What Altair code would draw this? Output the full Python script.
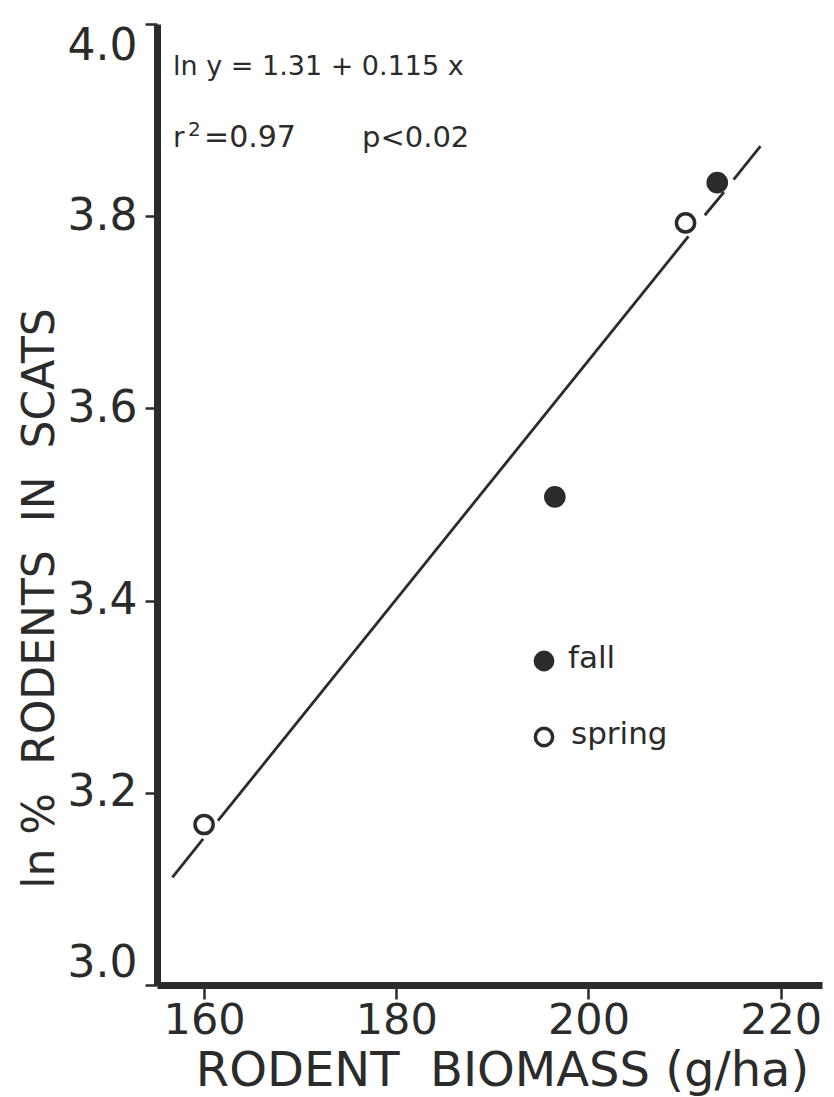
import altair as alt
import pandas as pd

# ---- data ----
season = ["spring", "spring", "fall", "fall"]
biomass = [160.0, 210.1, 213.4, 196.5]
ln_pct = [3.167, 3.793, 3.835, 3.508]

# fitted regression line, drawn in pieces with gaps around the symbols
seg_x1 = [156.7, 161.45, 212.1, 215.1]
seg_x2 = [159.9, 210.4, 214.1, 217.9]
seg_y1 = [3.112, 3.171, 3.801, 3.838]
seg_y2 = [3.152, 3.779, 3.825, 3.873]

x_ticks = [160, 180, 200, 220]
y_ticks = [3.0, 3.2, 3.4, 3.6, 3.8, 4.0]

legend_labels = ["fall", "spring"]
eq_line1 = "ln y = 1.31 + 0.115 x"
eq_r = "r"
eq_sup = "2"
eq_r2 = "=0.97"
eq_p = "p<0.02"

FONT = "DejaVu Sans"
INK = "#2b2b2b"
NB = "\u00a0"

pts = pd.DataFrame({"season": season, "x": biomass, "y": ln_pct})
segs = pd.DataFrame({"x": seg_x1, "x2": seg_x2, "y": seg_y1, "y2": seg_y2})

xscale = alt.Scale(domain=[155.1, 224.3], nice=False, zero=False)
yscale = alt.Scale(domain=[3.0, 4.0], nice=False, zero=False)
fillscale = alt.Scale(domain=["fall", "spring"], range=[INK, "white"])

xaxis = alt.Axis(values=x_ticks, title="RODENT" + NB + NB + "BIOMASS" + NB + "(g/ha)", grid=False,
                 domainWidth=7, domainColor=INK, tickColor=INK, tickWidth=2.5,
                 tickSize=14, labelPadding=0, labelFontSize=43, labelFont=FONT,
                 labelColor=INK, titleFont=FONT, titleFontSize=48,
                 titleFontWeight="normal", titleColor=INK, titlePadding=0,
                 titleX=345, titleY=62, titleBaseline="top", titleAnchor="middle", titleAlign="center")
yaxis = alt.Axis(values=y_ticks, format=".1f",
                 title="ln" + NB + "%" + NB + NB + "RODENTS" + NB + NB + "IN" + NB + NB + "SCATS", grid=False,
                 domainWidth=7, domainColor=INK, tickColor=INK, tickWidth=2.5,
                 tickSize=12, labelPadding=8, labelFontSize=44, labelFont=FONT, labelFlush=True,
                 labelColor=INK, titleFont=FONT, titleFontSize=44,
                 titleFontWeight="normal", titleColor=INK, titleAngle=270,
                 titleX=-117, titleY=574, titleBaseline="middle", titleAlign="center")

points = alt.Chart(pts).mark_point(filled=False, opacity=1, shape="circle").encode(
    x=alt.X("x:Q", scale=xscale, axis=xaxis),
    y=alt.Y("y:Q", scale=yscale, axis=yaxis),
    fill=alt.Fill("season:N", scale=fillscale, legend=None),
    size=alt.value(330),
    stroke=alt.value(INK),
    strokeWidth=alt.value(3.5),
)

line = alt.Chart(segs).mark_rule(color=INK, strokeWidth=2.8).encode(
    x=alt.X("x:Q", scale=xscale), x2="x2:Q",
    y=alt.Y("y:Q", scale=yscale), y2="y2:Q",
)


def txt(s, x, y, size, baseline="alphabetic"):
    return alt.Chart(pd.DataFrame({"t": [s]})).mark_text(
        font=FONT, fontSize=size, color=INK, align="left", baseline=baseline
    ).encode(text="t:N", x=alt.value(x), y=alt.value(y))


def key_symbol(fillcolor, x, y):
    return alt.Chart(pd.DataFrame({"k": [0]})).mark_point(
        filled=False, opacity=1, shape="circle", size=300, stroke=INK, strokeWidth=3.5, fill=fillcolor
    ).encode(x=alt.value(x), y=alt.value(y))


# hand-placed key (as in the original figure)
key1 = key_symbol(INK, 387, 637)
key2 = key_symbol("white", 387, 713)
key1t = txt(legend_labels[0], 411, 644, 31)
key2t = txt(legend_labels[1], 414, 720, 31)

eq1 = txt(eq_line1, 16, 51, 27)
eq2a = txt(eq_r, 16, 123, 28)
eq2b = txt(eq_sup, 31, 112, 20)
eq2c = txt(eq_r2, 47, 123, 30)
eq3 = txt(eq_p, 205, 123, 29)

chart = alt.layer(line, points, key1, key2, key1t, key2t, eq1, eq2a, eq2b, eq2c, eq3).properties(
    width=665, height=961,
    background="white",
    autosize=alt.AutoSizeParams(type="none"),
    padding={"left": 157, "top": 24, "right": 12, "bottom": 112},
).configure_view(stroke=None, strokeWidth=0)

chart.save("out.html", embed_options={"renderer": "svg", "actions": False})
